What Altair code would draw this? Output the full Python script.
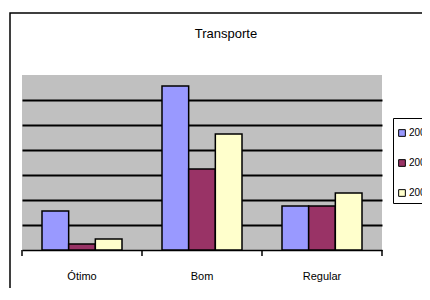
import altair as alt
import pandas as pd

categories = ["Ótimo", "Bom", "Regular"]
years = ["2006", "2007", "2008"]
v2006 = [1.56, 6.56, 1.76]
v2007 = [0.24, 3.24, 1.76]
v2008 = [0.44, 4.64, 2.28]
title_text = ["Transporte"]

rows = []
for i, c in enumerate(categories):
    for y, vals in zip(years, [v2006, v2007, v2008]):
        rows.append({"cat": c, "year": y, "value": vals[i]})
df = pd.DataFrame(rows)

colors = ["#9999FF", "#993366", "#FFFFCC"]

xscale = alt.Scale(domain=categories, paddingInner=1/3, paddingOuter=1/6)

bars = alt.Chart(df).mark_bar(stroke="black", strokeWidth=1.5).encode(
    x=alt.X("cat:N", sort=categories, scale=xscale,
            axis=alt.Axis(title=None, labelAngle=0, ticks=False, domain=True,
                          domainColor="black", domainWidth=1.5,
                          labelFont="Liberation Sans", labelFontSize=11,
                          labelColor="black", labelPadding=20)),
    xOffset=alt.XOffset("year:N", sort=years),
    y=alt.Y("value:Q", scale=alt.Scale(domain=[0, 7], nice=False),
            axis=alt.Axis(title=None, labels=False, ticks=False, domain=False,
                          values=[1, 2, 3, 4, 5, 6], grid=True,
                          gridColor="black", gridWidth=2, gridOpacity=1)),
    color=alt.Color("year:N", sort=years,
                    scale=alt.Scale(domain=years, range=colors),
                    legend=alt.Legend(title=" ", titleFontSize=1, titlePadding=5,
                                      orient="none", legendX=371, legendY=43,
                                      symbolType="square", symbolSize=45,
                                      symbolStrokeColor="black", symbolStrokeWidth=1,
                                      labelFont="Liberation Sans", labelFontSize=10,
                                      labelColor="black", labelOffset=2,
                                      rowPadding=18,
                                      padding=4, strokeColor="black",
                                      fillColor="white")),
)

tick_df = pd.DataFrame({"cat": categories})
ticks = alt.Chart(tick_df).mark_rule(color="black", strokeWidth=1.5, xOffset=20).encode(
    x=alt.X("cat:N", sort=categories, scale=xscale, bandPosition=1),
    y=alt.value(175), y2=alt.value(181),
)
start_tick = alt.Chart(alt.Data(values=[{"a": 1}])).mark_rule(color="black", strokeWidth=1.5).encode(
    x=alt.value(0), y=alt.value(175), y2=alt.value(181),
)
border = alt.Chart(alt.Data(values=[{"a": 1}])).mark_rect(
    fill="transparent", stroke="black", strokeWidth=1.5, clip=False
).encode(
    x=alt.value(-12), x2=alt.value(500), y=alt.value(-62), y2=alt.value(400),
)
title = alt.Chart(pd.DataFrame({"t": title_text})).mark_text(
    font="Liberation Sans", fontSize=13, color="black", baseline="middle", align="center"
).encode(
    text="t:N", x=alt.value(204), y=alt.value(-41),
)

chart = alt.layer(border, bars, ticks, start_tick, title).properties(
    width=360, height=175,
    padding={"left": 14, "top": 67, "right": 40, "bottom": 38},
    autosize="none",
).configure(background="white").configure_view(fill="#c0c0c0", stroke=None)

chart.save("out.html", embed_options={"renderer": "svg", "actions": False})
